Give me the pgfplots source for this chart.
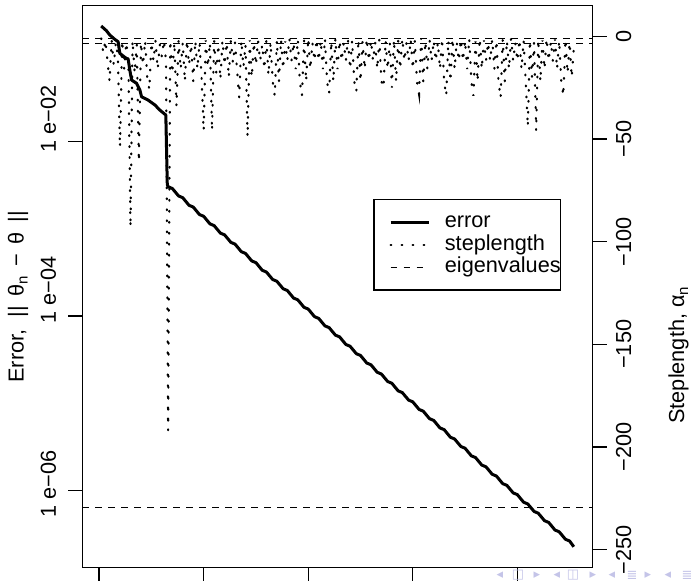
\documentclass[border=0pt]{standalone}
\usepackage{fontspec}
\setmainfont{Liberation Sans}
\setsansfont{Liberation Sans}
\newfontfamily\symfont{DejaVu Sans}
\usepackage{pgfplots}
\pgfplotsset{compat=1.18}

\newcommand\rsize{\fontsize{21.7}{26}\selectfont}
\newcommand\sub[1]{\raisebox{-0.35ex}{\fontsize{15}{15}\selectfont #1}}
\definecolor{navcol}{RGB}{196,196,232}

% error, log10 scale, by iteration
\pgfplotstableread{
n L
1 -0.673
3.5 -0.727
5.1 -0.776
7.5 -0.826
9.1 -0.853
9.9 -0.986
12.3 -1.032
13.9 -1.055
14.7 -1.178
15.5 -1.292
17.9 -1.330
19.5 -1.407
20.3 -1.484
23.4 -1.522
26.7 -1.579
29 -1.636
31.9 -1.694
32.6 -2.490
33 -2.516
35 -2.536
38 -2.622
40 -2.642
43 -2.729
45 -2.749
48 -2.835
50 -2.855
53 -2.942
55 -2.962
58 -3.048
60 -3.068
63 -3.154
65 -3.174
68 -3.261
70 -3.281
73 -3.367
75 -3.387
78 -3.474
80 -3.494
83 -3.580
85 -3.600
88 -3.686
90 -3.706
93 -3.793
95 -3.813
98 -3.899
100 -3.919
103 -4.006
105 -4.026
108 -4.112
110 -4.132
113 -4.218
115 -4.238
118 -4.325
120 -4.345
123 -4.431
125 -4.451
128 -4.538
130 -4.558
133 -4.644
135 -4.664
138 -4.750
140 -4.770
143 -4.857
145 -4.877
148 -4.963
150 -4.983
153 -5.070
155 -5.090
158 -5.176
160 -5.196
163 -5.282
165 -5.302
168 -5.389
170 -5.409
173 -5.495
175 -5.515
178 -5.602
180 -5.622
183 -5.708
185 -5.728
188 -5.814
190 -5.834
193 -5.921
195 -5.941
198 -6.027
200 -6.047
203 -6.134
205 -6.154
208 -6.240
210 -6.260
213 -6.346
215 -6.366
218 -6.453
220 -6.473
223 -6.559
225 -6.579
227 -6.645
}\errtab

% steplength alpha_n
\pgfplotstableread{
n a
1 -1
2 -8
3 -2
4 -12
5 -22
6 -2
7 -14
8 -3
9 -10
10 -54
11 -2
12 -16
13 -3
14 -12
15 -93
16 -2
17 -18
18 -4
19 -61
20 -3
21 -14
22 -2
23 -20
24 -26
25 -3
26 -12
27 -2
28 -16
29 -4
30 -10
31 -2
32 -12
33 -192
34 -2
35 -18
36 -3
37 -34
38 -2
39 -16
40 -3
41 -22
42 -2
43 -14
44 -4
45 -22
46 -2
47 -16
48 -3
49 -20
50 -46
51 -2
52 -15
53 -3
54 -46
55 -2
56 -18
57 -4
58 -21
59 -2
60 -14
61 -3
62 -20
63 -2
64 -13
65 -3
66 -17
67 -30
68 -2
69 -15
70 -4
71 -49
72 -2
73 -20
74 -3
75 -14
76 -2
77 -12
78 -4
79 -16
80 -2
81 -19
82 -3
83 -22
84 -29
85 -2
86 -22
87 -1.5
88 -16
89 -2.5
90 -12
91 -1
92 -12
93 -3
94 -16
95 -1.5
96 -22
97 -29
98 -2
99 -22
100 -1
101 -16
102 -3
103 -12
104 -1.5
105 -12
106 -2
107 -16
108 -1
109 -22
110 -28
111 -2.5
112 -22
113 -1
114 -16
115 -2
116 -12
117 -3
118 -12
119 -1.5
120 -16
121 -2
122 -22
123 -27
124 -1.5
125 -22
126 -2.5
127 -16
128 -1
129 -12
130 -2
131 -12
132 -3
133 -16
134 -1.5
135 -22
136 -25
137 -2
138 -16
139 -3
140 -25
141 -1.5
142 -22
143 -2
144 -16
145 -1
146 -12
147 -3
148 -12
149 -1.5
150 -16
151 -2
152 -22
153 -28
154 -1
155 -22
156 -2.5
157 -16
158 -1.5
159 -12
160 -2
161 -12
162 -3
163 -16
164 -1
165 -22
166 -29
167 -2
168 -22
169 -1
170 -16
171 -2.5
172 -12
173 -1.5
174 -12
175 -2
176 -16
177 -1
178 -22
179 -29
180 -2.5
181 -22
182 -1
183 -16
184 -2
185 -12
186 -3
187 -12
188 -1.5
189 -16
190 -2
191 -22
192 -30
193 -1.5
194 -22
195 -2
196 -16
197 -1
198 -12
199 -3
200 -12
201 -1.5
202 -16
203 -2
204 -22
205 -44
206 -2
207 -20
208 -3
209 -46
210 -1.5
211 -22
212 -2
213 -16
214 -1
215 -12
216 -2.5
217 -12
218 -1.5
219 -16
220 -2
221 -22
222 -29
223 -1.5
224 -18
225 -3
226 -20
227 -6
}\steptab

\begin{document}
\begin{tikzpicture}[x=1pt,y=1pt]
\useasboundingbox (0,0) rectangle (691,581);

\pgfplotsset{
  rplot/.style={
    at={(82.3pt,13.3pt)}, anchor=south west,
    scale only axis, width=510.4pt, height=562pt,
    xmin=-8.04, xmax=236.04,
    axis line style={line width=1.3pt},
    tick align=outside, major tick length=14pt,
    tick style={line width=1.3pt, black},
    ticklabel style={font=\rsize},
    label style={font=\rsize},
  },
}

\begin{axis}[rplot,
  ymin=-6.885, ymax=-0.440,
  xtick pos=bottom, ytick pos=left,
  xtick={0,50,100,150,200}, xticklabels={},
  ytick={-6,-4,-2},
  yticklabels={\hspace{13pt}1 e−06,\hspace{52pt}1 e−04,\hspace{45pt}1 e−02},
  yticklabel style={rotate=90, anchor=south, inner sep=0pt},
  yticklabel shift=12pt,
  ylabel={Error,\ \ ||\ \,θ\sub{n}\ \,−\ \,θ\ \,||},
  ylabel style={at={(axis description cs:-0.126,0.482)}, rotate=0, anchor=center},
]
\addplot[line width=3pt, line join=round] table[x=n, y=L] {\errtab};
\end{axis}

\begin{axis}[rplot,
  ymin=-258.8, ymax=14.9,
  axis x line=none, axis y line*=right,
  ytick={-250,-200,-150,-100,-50,0},
  yticklabels={−250,−200,−150,−100,−50,0},
  yticklabel style={rotate=90, anchor=north, inner sep=0pt},
  yticklabel shift=9pt,
  ylabel={Steplength, α\sub{n}},
  ylabel style={at={(axis description cs:1.168,0.378)}, rotate=0, anchor=center},
  legend style={at={(0.570,0.656)}, anchor=north west, draw=black,
    line width=1.3pt, font=\rsize, inner xsep=0pt, inner ysep=12pt,
    row sep=1.6pt, column sep=0pt,
    nodes={text height=16pt, text depth=5pt, inner sep=0pt},
    legend cell align=left},
  legend image code/.code={
    \path[draw=none] (0pt,0pt) -- (71pt,0pt);
    \draw[#1] (16.7pt,0pt) -- (54.7pt,0pt);},
]
\addlegendimage{line width=3pt}
\addlegendentry{error}
\addplot[line width=2.2pt, line cap=round, dash pattern=on 0.8pt off 10.2pt]
  table[x=n, y=a] {\steptab};
\addlegendentry{steplength}
\addplot[line width=1.3pt, dash pattern=on 6.5pt off 6.5pt]
  coordinates {(-8.04,-1.17) (236.04,-1.17)};
\addlegendentry{eigenvalues\hspace{3pt}}
\addplot[line width=1.3pt, dash pattern=on 6.5pt off 6.5pt, forget plot]
  coordinates {(-8.04,-3.5) (236.04,-3.5)};
\addplot[line width=1.3pt, dash pattern=on 6.5pt off 6.5pt, forget plot]
  coordinates {(-8.04,-229.6) (236.04,-229.6)};
\end{axis}

% beamer navigation symbols, cut by the page edge
\foreach \xx/\ss in {500/◂,518/□,537/▸,557/◂,573/◫,593/▸,612/◂,632/≣,648/▸,668/◂,687/≣}
  \node[text=navcol, font=\symfont\fontsize{13}{13}\selectfont, inner sep=0pt]
    at (\xx, 6) {\ss};
\end{tikzpicture}
\end{document}
